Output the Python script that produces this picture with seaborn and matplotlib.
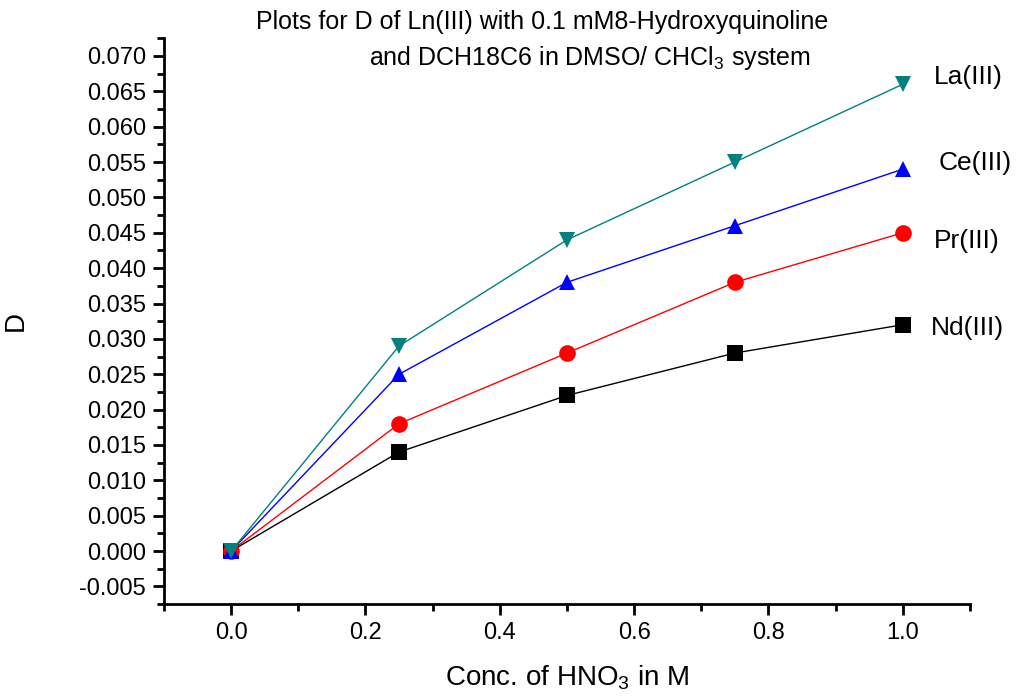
import numpy as np
import pandas as pd
import matplotlib
matplotlib.use('Agg')
import matplotlib.pyplot as plt
import seaborn as sns
from matplotlib.ticker import MultipleLocator, FormatStrFormatter

# === Data ===
conc = [0.0, 0.25, 0.5, 0.75, 1.0]
nd = [0.0, 0.014, 0.022, 0.028, 0.032]
pr = [0.0, 0.018, 0.028, 0.038, 0.045]
ce = [0.0, 0.025, 0.038, 0.046, 0.054]
la = [0.0, 0.029, 0.044, 0.055, 0.066]
ions = ['Nd(III)', 'Pr(III)', 'Ce(III)', 'La(III)']

df = pd.DataFrame({
    'conc': conc * 4,
    'D': nd + pr + ce + la,
    'ion': sum([[i] * len(conc) for i in ions], []),
})

colors = {'Nd(III)': '#000000', 'Pr(III)': '#ff0000', 'Ce(III)': '#0000ff', 'La(III)': '#008080'}
markers = {'Nd(III)': 's', 'Pr(III)': 'o', 'Ce(III)': '^', 'La(III)': 'v'}
label_offsets = {'Nd(III)': (28, -3), 'Pr(III)': (31, -8), 'Ce(III)': (36, 6), 'La(III)': (31, 7)}

sns.set_style('ticks')
plt.rcParams['font.family'] = ['Liberation Sans', 'DejaVu Sans']
plt.rcParams['mathtext.fontset'] = 'custom'
plt.rcParams['mathtext.rm'] = 'Liberation Sans'
plt.rcParams['mathtext.it'] = 'Liberation Sans'
plt.rcParams['text.color'] = 'black'
plt.rcParams['axes.labelcolor'] = 'black'
plt.rcParams['xtick.color'] = 'black'
plt.rcParams['ytick.color'] = 'black'
plt.rcParams['axes.edgecolor'] = 'black'

fig = plt.figure(figsize=(10.21, 6.96), dpi=100)
ax = fig.add_axes([0.1606, 0.132, 0.7894, 0.813])

sns.lineplot(data=df, x='conc', y='D', hue='ion', style='ion', hue_order=ions,
             style_order=ions, palette=colors, markers=markers, dashes=False,
             markersize=12, markeredgewidth=0, linewidth=1, legend=False, ax=ax)

# labels next to the last point of each series
for ion in ions:
    sub = df[df['ion'] == ion]
    ax.annotate(ion, (sub['conc'].iloc[-1], sub['D'].iloc[-1]),
                xytext=label_offsets[ion], textcoords='offset pixels',
                fontsize=19, va='center', ha='left', annotation_clip=False)

ax.set_xlim(-0.1, 1.1)
ax.set_ylim(-0.0075, 0.0725)
ax.xaxis.set_major_locator(MultipleLocator(0.2))
ax.xaxis.set_minor_locator(MultipleLocator(0.1))
ax.yaxis.set_major_locator(MultipleLocator(0.005))
ax.yaxis.set_minor_locator(MultipleLocator(0.0025))
ax.xaxis.set_major_formatter(FormatStrFormatter('%.1f'))
ax.yaxis.set_major_formatter(FormatStrFormatter('%.3f'))

sns.despine(ax=ax)
for s in ['left', 'bottom']:
    ax.spines[s].set_linewidth(2)
ax.tick_params(which='major', length=8, width=2, labelsize=17, direction='out', pad=5)
ax.tick_params(which='minor', length=5, width=2, direction='out')

ax.set_xlabel('Conc. of HNO$_3$ in M', fontsize=20, labelpad=14)
ax.set_ylabel('D', fontsize=20, labelpad=36)

fig.text(0.531, 0.968, 'Plots for D of Ln(III) with 0.1 mM8-Hydroxyquinoline',
         ha='center', va='center', fontsize=18)
fig.text(0.578, 0.917, 'and DCH18C6 in DMSO/ CHCl$_3$ system',
         ha='center', va='center', fontsize=18)

fig.savefig('out.png', dpi=100)
